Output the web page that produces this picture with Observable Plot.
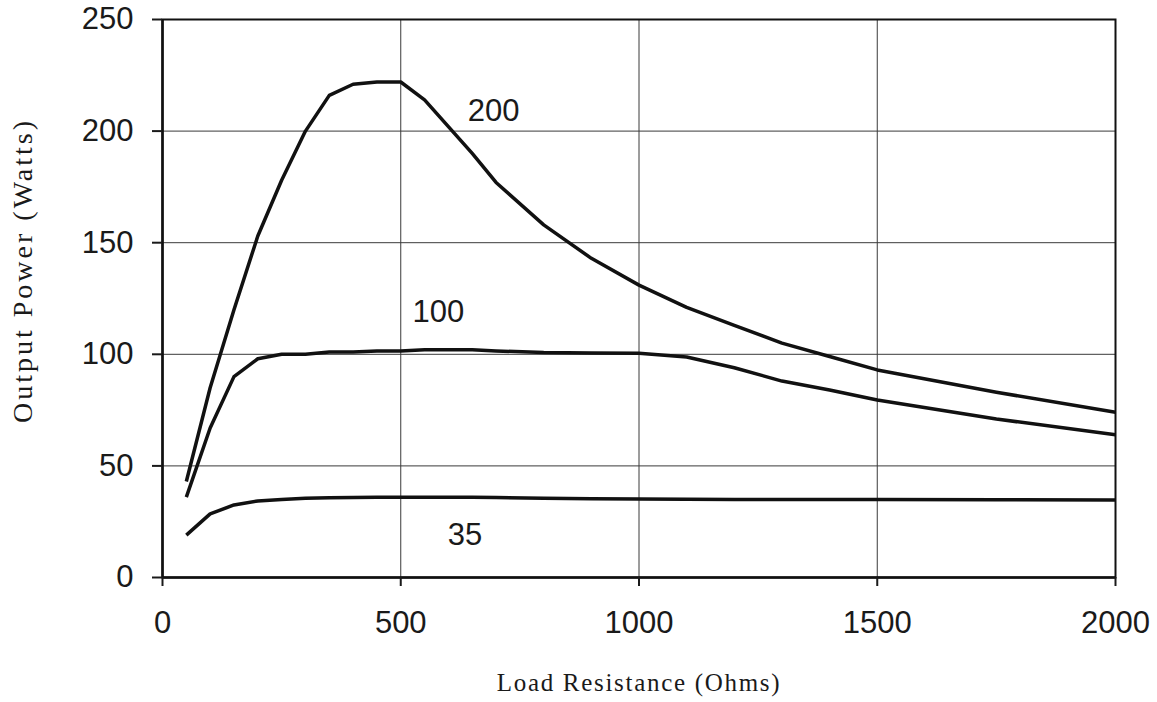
<!DOCTYPE html>
<html>
<head>
<meta charset="utf-8">
<script src="https://cdn.jsdelivr.net/npm/d3@7"></script>
<script src="https://cdn.jsdelivr.net/npm/@observablehq/plot@0.6"></script>
<style>
  html, body { margin: 0; padding: 0; background: #fff; }
</style>
</head>
<body>
<div id="chart"></div>
<script>
// Load resistance (Ohms) sample points
const loadResistance = [50, 100, 150, 200, 250, 300, 350, 400, 450, 500, 550, 600, 650, 700, 800, 900, 1000, 1100, 1200, 1300, 1400, 1500, 1750, 2000];
// Output power (Watts) for each curve
const power200 = [43, 85, 120, 153, 178, 200, 216, 221, 222, 222, 214, 202, 190, 177, 158, 143, 131, 121, 113, 105, 99, 93, 83, 74];
const power100 = [36, 67, 90, 98, 100, 100, 101, 101, 101.5, 101.5, 102, 102, 102, 101.5, 100.8, 100.6, 100.5, 98.8, 94, 88, 84, 79.5, 71, 64];
const power35 = [19, 28.5, 32.5, 34.3, 35, 35.5, 35.7, 35.8, 36, 36, 36, 36, 36, 35.8, 35.5, 35.3, 35.2, 35.1, 35, 35, 35, 35, 34.8, 34.7];
const seriesNames = ["200", "100", "35"];
// curve label anchor points (data units)
const labelResistance = [695, 579, 635];
const labelPower = [209, 119, 19];
const xTicks = [0, 500, 1000, 1500, 2000];
const yTicks = [0, 50, 100, 150, 200, 250];
const xTitle = "Load Resistance (Ohms)";
const yTitle = "Output Power (Watts)";

const seriesValues = [power200, power100, power35];
const rows = [];
seriesNames.forEach((name, i) => {
  loadResistance.forEach((r, j) => rows.push({series: name, r, p: seriesValues[i][j]}));
});
const labels = seriesNames.map((name, i) => ({name, r: labelResistance[i], p: labelPower[i]}));

const sans = "'Liberation Sans', Arial, Helvetica, sans-serif";
const serif = "'Liberation Serif', 'Times New Roman', serif";

const chart = Plot.plot({
  width: 1157,
  height: 702,
  marginLeft: 162,
  marginRight: 42,
  marginTop: 19,
  marginBottom: 125,
  style: {fontFamily: sans, fontSize: "31px", color: "#1a1a1a", background: "#fff"},
  x: {domain: [0, 2000]},
  y: {domain: [0, 250]},
  marks: [
    Plot.gridX(xTicks.slice(1), {stroke: "#3a3a3a", strokeOpacity: 1, strokeWidth: 1}),
    Plot.gridY(yTicks.slice(1), {stroke: "#3a3a3a", strokeOpacity: 1, strokeWidth: 1}),
    Plot.frame({stroke: "#111", strokeWidth: 2}),
    Plot.ruleX([0], {stroke: "#111", strokeWidth: 2.5}),
    Plot.ruleY([0], {stroke: "#111", strokeWidth: 2.5}),
    Plot.axisX({ticks: xTicks, tickFormat: "d", tickSize: 9, tickPadding: 24, label: null, strokeWidth: 2, fontSize: 31}),
    Plot.axisY({ticks: yTicks, tickFormat: "d", tickSize: 10, tickPadding: 19, label: null, strokeWidth: 2, fontSize: 31}),
    Plot.line(rows, {x: "r", y: "p", z: "series", stroke: "#111", strokeWidth: 3.5, strokeLinejoin: "round", strokeLinecap: "butt"}),
    Plot.text(labels, {x: "r", y: "p", text: "name", fontSize: 31, fontFamily: sans, fill: "#1a1a1a", textAnchor: "middle", lineAnchor: "middle"}),
    Plot.text([xTitle], {frameAnchor: "bottom", dy: 105, lineAnchor: "middle", textAnchor: "middle", fontFamily: serif, fontSize: 25, fill: "#1a1a1a"}),
    Plot.text([yTitle], {frameAnchor: "left", dx: -139, dy: -28, rotate: -90, lineAnchor: "middle", textAnchor: "middle", fontFamily: serif, fontSize: 28, fill: "#1a1a1a"})
  ]
});
// wider letter spacing for the serif axis titles, as in the scanned original
d3.select(chart).selectAll("text").each(function () {
  const t = this.textContent;
  if (t === xTitle) this.setAttribute("letter-spacing", "1.7px");
  if (t === yTitle) this.setAttribute("letter-spacing", "3px");
});
document.getElementById("chart").appendChild(chart);
</script>
</body>
</html>
